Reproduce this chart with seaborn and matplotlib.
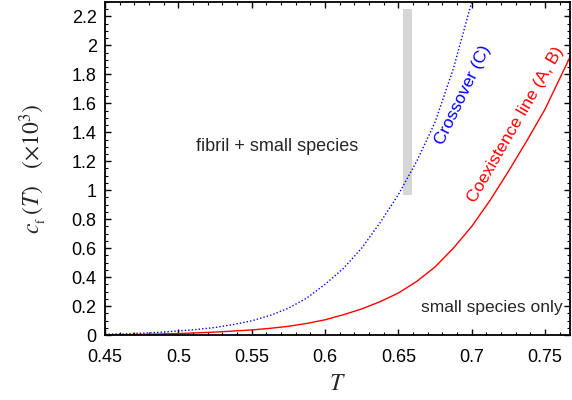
import numpy as np
import pandas as pd
import seaborn as sns
import matplotlib
matplotlib.use("Agg")
import matplotlib.pyplot as plt
from matplotlib.ticker import MultipleLocator, FormatStrFormatter

# Values (c_f in units of 1e-3)
T_crossover = [0.45, 0.4625, 0.475, 0.4875, 0.5, 0.5125, 0.525, 0.5375, 0.55, 0.5625, 0.575,
               0.5875, 0.6, 0.6125, 0.625, 0.6375, 0.65, 0.6625, 0.675, 0.6875, 0.7]
c_crossover = [0.005, 0.008, 0.012, 0.019, 0.028, 0.038, 0.052, 0.072, 0.098, 0.135, 0.185,
               0.255, 0.35, 0.46, 0.6, 0.775, 0.97, 1.2, 1.47, 1.84, 2.3]

T_coexist = [0.45, 0.475, 0.5, 0.525, 0.55, 0.5625, 0.575, 0.5875, 0.6, 0.6125, 0.625, 0.6375,
             0.65, 0.6625, 0.675, 0.6875, 0.7, 0.7125, 0.725, 0.7375, 0.75, 0.7675]
c_coexist = [0.0, 0.004, 0.01, 0.02, 0.035, 0.046, 0.06, 0.08, 0.105, 0.14, 0.18, 0.23,
             0.29, 0.37, 0.47, 0.6, 0.75, 0.93, 1.13, 1.34, 1.56, 1.93]

# grey marker bar
bar_T = 0.6563
bar_low = 0.97
bar_high = 2.25

sns.set_style("ticks")
plt.rcParams['font.family'] = ['Liberation Sans', 'DejaVu Sans']
plt.rcParams['mathtext.fontset'] = 'stix'

fig = plt.figure(figsize=(5.72, 4.0), dpi=100)
ax = fig.add_axes([0.1836, 0.1625, 0.8129, 0.8325])

ax.bar(bar_T, bar_high - bar_low, bottom=bar_low, width=0.006, color='#d6d6d6', linewidth=0)

df_c = pd.DataFrame({'T': T_crossover, 'c': c_crossover})
df_a = pd.DataFrame({'T': T_coexist, 'c': c_coexist})
sns.lineplot(data=df_c, x='T', y='c', ax=ax, color='blue', linestyle=(0, (1, 1.5)), linewidth=1.0)
sns.lineplot(data=df_a, x='T', y='c', ax=ax, color='red', linewidth=1.0)

ax.set_xlim(0.45, 0.767)
ax.set_ylim(0, 2.3)

ax.xaxis.set_major_locator(MultipleLocator(0.05))
ax.xaxis.set_minor_locator(MultipleLocator(0.01))
ax.yaxis.set_major_locator(MultipleLocator(0.2))
ax.yaxis.set_minor_locator(MultipleLocator(0.05))
ax.xaxis.set_major_formatter(FormatStrFormatter('%g'))
ax.yaxis.set_major_formatter(FormatStrFormatter('%g'))
ax.tick_params(which='both', direction='in', top=True, right=True, labelsize=13, colors='black')
ax.tick_params(which='major', length=4, width=1)
ax.tick_params(which='minor', length=2, width=0.8)
ax.tick_params(axis='x', pad=10)
ax.tick_params(axis='y', pad=6)
for s in ax.spines.values():
    s.set_linewidth(1.3)
    s.set_color('black')

ax.set_xlabel(r'$T$', fontsize=17, labelpad=5)
ax.set_ylabel(r'$c_{_{\rm f}}\,(T)\quad(\times10^{3})$', fontsize=17, labelpad=16)

ax.text(0.567, 1.30, 'fibril + small species', fontsize=13, ha='center', va='center')
ax.text(0.762, 0.19, 'small species only', fontsize=12.5, ha='right', va='center')
ax.text(0.694, 1.66, 'Crossover (C)', fontsize=12.5, color='blue', rotation=64, ha='center', va='center')
ax.text(0.730, 1.45, 'Coexistence line (A, B)', fontsize=12.5, color='red', rotation=60, ha='center', va='center')

fig.savefig('out.png', dpi=100)
